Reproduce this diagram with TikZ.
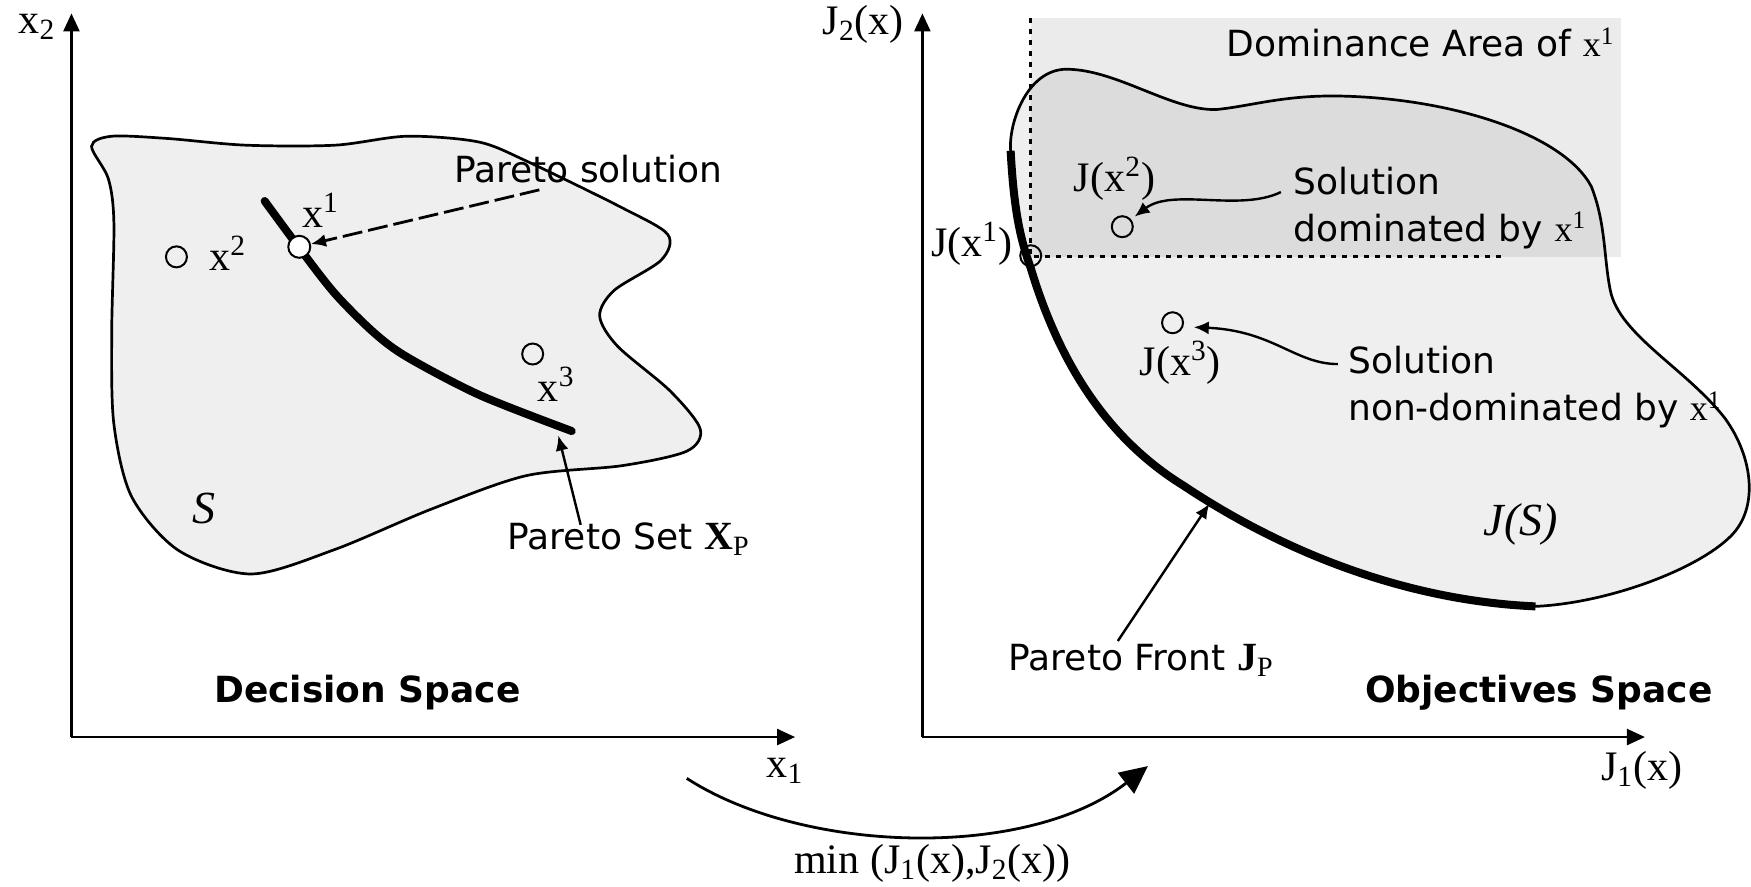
\documentclass[tikz,border=0pt]{standalone}
\usepackage{fontspec}
\setmainfont{Liberation Serif}
\newfontfamily\dv{DejaVu Sans}
\usetikzlibrary{arrows.meta}
\definecolor{regc}{HTML}{EFEFEF}
\definecolor{domc}{HTML}{EBEBEB}
\definecolor{overc}{HTML}{DCDCDC}
\begin{document}
\begin{tikzpicture}[x=0.5583pt,y=-0.5583pt,
  lab/.style={font=\fontsize{21}{24}\selectfont, inner sep=0pt},
  ital/.style={font=\itshape\fontsize{23}{26}\selectfont, inner sep=0pt},
  txt/.style={font=\dv\fontsize{18}{23.5}\selectfont, inner sep=0pt},
  ttl/.style={font=\dv\bfseries\fontsize{18}{22}\selectfont, inner sep=0pt},
  axis/.style={line width=1.2pt, -{Triangle[length=9pt,width=8pt]}},
  outline/.style={line width=1.35pt},
  front/.style={line width=4pt},
  pnt/.style={circle, draw, line width=1pt, minimum size=10.5pt, inner sep=0pt},
  arr/.style={line width=1.2pt, -{Latex[length=7.5pt,width=6.5pt]}},
]
\useasboundingbox (0,0) rectangle (1568,794);
\def\JSpath{(905,135) .. controls (908,190) and (914,215) .. (923,240)
  .. controls (950,330) and (995,395) .. (1060,435)
  .. controls (1150,495) and (1260,538) .. (1375,543)
  .. controls (1440,540) and (1520,510) .. (1550,480)
  .. controls (1575,455) and (1570,410) .. (1545,375)
  .. controls (1510,330) and (1450,300) .. (1442,260)
  .. controls (1436,230) and (1438,200) .. (1425,167)
  .. controls (1400,120) and (1300,88) .. (1200,86)
  .. controls (1150,85) and (1120,95) .. (1090,98)
  .. controls (1050,100) and (1000,62) .. (955,62)
  .. controls (920,62) and (903,110) .. (905,135) -- cycle}
\def\Frontpath{(905,135) .. controls (908,190) and (914,215) .. (923,240)
  .. controls (950,330) and (995,395) .. (1060,435)
  .. controls (1150,495) and (1260,538) .. (1375,543)}
\def\Spath{plot[smooth cycle, tension=0.5] coordinates {(82,131) (100,122) (150,124) (220,130) (300,130) (364,122) (428,127) (471,144) (557,186) (598,210) (592,233) (550,260) (537,283) (553,310) (600,350) (627,384) (615,404) (557,417) (471,426) (386,456) (300,492) (225,514) (160,493) (118,445) (102,380) (100,300) (102,200) (97,160)}}

% ---------- left panel ----------
\fill[regc] \Spath;
\draw[outline] \Spath;
\draw[front, line cap=round] plot[smooth, tension=0.5] coordinates {(237,180) (268,222) (300,263) (335,298) (365,320) (430,354) (512,386)};
\coordinate (o1) at (64,660);
\coordinate (ya1) at (64,12);
\coordinate (xa1) at (712,660);
\draw[axis] (o1) -- (ya1);
\draw[axis] (o1) -- (xa1);
\node[lab] (lx2) at (33,24) {x\textsubscript{2}};
\node[lab] (lx1) at (703,690) {x\textsubscript{1}};
\node[pnt, fill=white, minimum size=11pt] (p1) at (268,221) {};
\node[pnt] (p2) at (158,230) {};
\node[pnt] (p3) at (477,317) {};
\node[lab] (lp1) at (287,188) {x\textsuperscript{1}};
\node[lab] (lp2) at (204,227) {x\textsuperscript{2}};
\node[lab] (lp3) at (498,344) {x\textsuperscript{3}};
\node[ital] (lS) at (183,455) {S};
\node[txt] (lps) at (527,151) {Pareto solution};
\coordinate (pst) at (483,170);
\draw[arr, line width=1.4pt, dash pattern=on 10pt off 3pt] (pst) -- (p1);
\node[txt] (lpset) at (563,483) {Pareto Set {\rmfamily\fontsize{20}{24}\selectfont\bfseries X\textsubscript{\mdseries P}}};
\coordinate (pset1) at (520,470);
\coordinate (pset2) at (500,390);
\draw[arr] (pset1) -- (pset2);
\node[ttl] (lds) at (329,620) {Decision Space};

% ---------- right panel ----------
\fill[domc] (923,16) rectangle (1452,230);
\fill[regc] \JSpath;
\begin{scope}
  \clip (923,16) rectangle (1452,230);
  \fill[overc] \JSpath;
\end{scope}
\draw[outline] \JSpath;
\draw[front] \Frontpath;
\coordinate (dv1) at (923,16);
\coordinate (dv2) at (923,230);
\coordinate (dh2) at (1345,230);
\draw[line width=1.5pt, dash pattern=on 2.5pt off 3pt] (dv1) -- (dv2) -- (dh2);
\coordinate (o2) at (826,660);
\coordinate (ya2) at (826,12);
\coordinate (xa2) at (1473,660);
\draw[axis] (o2) -- (ya2);
\draw[axis] (o2) -- (xa2);
\node[lab] (lj2) at (773,22) {J\textsubscript{2}(x)};
\node[lab] (lj1) at (1470,690) {J\textsubscript{1}(x)};
\node[txt] (ldom) at (1272,38) {Dominance Area of {\rmfamily x\textsuperscript{1}}};
\node[pnt] (q1) at (923,229) {};
\node[pnt] (q2) at (1005,203) {};
\node[pnt] (q3) at (1050,289) {};
\node[lab] (lq1) at (870,218) {J(x\textsuperscript{1})};
\node[lab] (lq2) at (998,160) {J(x\textsuperscript{2})};
\node[lab] (lq3) at (1057,325) {J(x\textsuperscript{3})};
\node[txt, anchor=west, align=left] (lsd) at (1158,186) {Solution\\dominated by {\rmfamily x\textsuperscript{1}}};
\node[txt, anchor=west, align=left] (lsn) at (1207,347) {Solution\\non-dominated by {\rmfamily x\textsuperscript{1}}};
\coordinate (sdt) at (1147,172);
\coordinate (sdh) at (1016,194);
\draw[arr] (sdt) .. controls (1110,190) and (1050,168) .. (sdh);
\coordinate (snt) at (1198,326);
\coordinate (snh) at (1069,293);
\draw[arr] (snt) .. controls (1160,326) and (1140,296) .. (snh);
\node[ital] (lJS) at (1362,470) {J(S)};
\node[txt] (lpf) at (1022,591) {Pareto Front {\rmfamily\fontsize{20}{24}\selectfont\bfseries J\textsubscript{\mdseries P}}};
\coordinate (pft) at (1001,574);
\coordinate (pfh) at (1083,451);
\draw[arr] (pft) -- (pfh);
\node[ttl] (los) at (1378,620) {Objectives Space};

% ---------- mapping arrow ----------
\coordinate (mt) at (615,697);
\coordinate (mh) at (1028,686);
\draw[line width=1.4pt, -{Triangle[length=14pt,width=13pt]}] (mt) .. controls (720,765) and (920,770) .. (mh);
\node[lab] (lmin) at (835,773) {min (J\textsubscript{1}(x),J\textsubscript{2}(x))};
\end{tikzpicture}
\end{document}
